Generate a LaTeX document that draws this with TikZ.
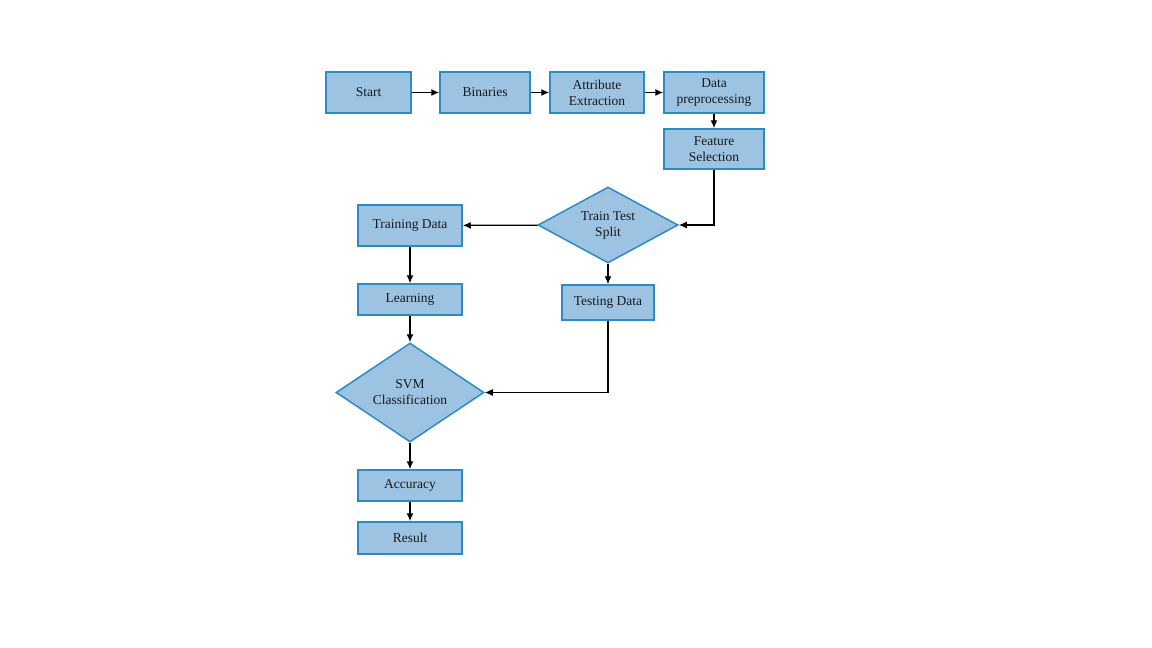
\documentclass[tikz,border=0pt]{standalone}
\usepackage{fontspec}
\setmainfont{Liberation Serif}
\usetikzlibrary{shapes.geometric,arrows.meta}
\definecolor{boxfill}{HTML}{9DC3E3}
\definecolor{boxline}{HTML}{2B8CC4}
\begin{document}
\begin{tikzpicture}[x=1pt,y=-1pt,
  box/.style={draw=boxline,fill=boxfill,line width=1.5pt,inner sep=0pt,align=center,font=\fontsize{13.5}{16}\selectfont,text=black!90},
  dia/.style={diamond,draw=boxline,fill=boxfill,line width=1.5pt,inner sep=0pt,align=center,font=\fontsize{13.5}{16}\selectfont,text=black!90},
  arr/.style={-{Latex[length=8pt,width=7pt]},line width=1.3pt,black}]
\useasboundingbox (0,0) rectangle (1152,648);
\node[box,minimum width=85pt,minimum height=41pt] (start) at (368.5,92.5) {Start};
\node[box,minimum width=90pt,minimum height=41pt] (bin) at (485,92.5) {Binaries};
\node[box,minimum width=94pt,minimum height=41pt] (attr) at (597,92.5) {Attribute\\Extraction};
\node[box,minimum width=100pt,minimum height=41pt] (pre) at (714,92.5) {Data\\preprocessing};
\node[box,minimum width=100pt,minimum height=40pt] (feat) at (714,149) {Feature\\Selection};
\node[dia,aspect=1.84,minimum width=140pt,minimum height=76pt] (split) at (608,225) {Train Test\\Split};
\node[box,minimum width=104pt,minimum height=41pt] (train) at (410,225.5) {Training Data};
\node[box,minimum width=104pt,minimum height=31pt] (learn) at (410,299.5) {Learning};
\node[box,minimum width=92pt,minimum height=35pt] (test) at (608,302.5) {Testing Data};
\node[dia,aspect=1.5,minimum width=148pt,minimum height=99pt] (svm) at (410,392.5) {SVM\\Classification};
\node[box,minimum width=104pt,minimum height=31pt] (acc) at (410,485.5) {Accuracy};
\node[box,minimum width=104pt,minimum height=32pt] (res) at (410,538) {Result};
\draw[arr] (start) -- (bin);
\draw[arr] (bin) -- (attr);
\draw[arr] (attr) -- (pre);
\draw[arr] (pre) -- (feat);
\draw[arr] (feat.south) |- (split.east);
\draw[arr] (split) -- (train);
\draw[arr] (split) -- (test);
\draw[arr] (train) -- (learn);
\draw[arr] (learn) -- (svm);
\draw[arr] (test.south) |- (svm.east);
\draw[arr] (svm) -- (acc);
\draw[arr] (acc) -- (res);
\end{tikzpicture}
\end{document}
